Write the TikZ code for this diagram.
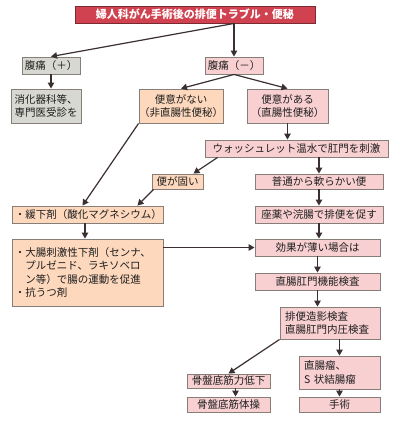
\documentclass[tikz,border=0pt]{standalone}
\usepackage{fontspec}
\setmainfont{Noto Sans CJK JP}
\usetikzlibrary{arrows.meta}
\definecolor{titlered}{HTML}{D0424F}
\definecolor{titleedge}{HTML}{7A2A30}
\definecolor{grayfill}{HTML}{D8D8D2}
\definecolor{orangefill}{HTML}{FDD8BD}
\definecolor{pinkfill}{HTML}{F9D0D1}
\definecolor{edgegray}{HTML}{857E79}
\definecolor{arrowcol}{HTML}{3B2F2F}
\definecolor{txt}{HTML}{1E1E1E}
\begin{document}
\begin{tikzpicture}[x=1bp,y=-1bp,
  box/.style={draw=edgegray,line width=0.9bp,inner sep=0pt,text=txt,
    font=\fontsize{10.5bp}{13.5bp}\selectfont,align=center},
  gbox/.style={box,fill=grayfill},
  obox/.style={box,fill=orangefill},
  pbox/.style={box,fill=pinkfill},
  sz/.style 2 args={minimum width=#1bp,minimum height=#2bp},
  arr/.style={draw=arrowcol,line width=1.2bp,-{Triangle[width=6.5bp,length=6bp]}}]
\path[use as bounding box,fill=white] (0,0) rectangle (400,430);
% nodes
\node[draw=titleedge,line width=0.9bp,fill=titlered,text=white,inner sep=0pt,
  font=\fontsize{11bp}{13bp}\selectfont\bfseries,sz={240}{17}] (top) at (195,14.5) {婦人科がん手術後の排便トラブル・便秘};
\node[gbox,sz={58}{17}] (pp) at (51,65.5) {腹痛（＋）};
\node[pbox,sz={58}{17}] (pm) at (234,65.5) {腹痛（－）};
\node[gbox,sz={70}{34}] (spec) at (46,106) {消化器科等、\\専門医受診を};
\node[obox,sz={82}{34}] (nai) at (181,106) {便意がない\\（非直腸性便秘）};
\node[pbox,sz={81}{34}] (aru) at (287.5,106) {便意がある\\（直腸性便秘）};
\node[pbox,sz={183}{17}] (wash) at (296.5,148.5) {ウォッシュレット温水で肛門を刺激};
\node[obox,sz={51}{15}] (kata) at (177.5,181.5) {便が固い};
\node[pbox,sz={128}{15}] (futsu) at (319,181.5) {普通から軟らかい便};
\node[obox,sz={151}{17},text width=145bp,align=left] (kanka) at (87.5,214.5) {・緩下剤（酸化マグネシウム）};
\node[pbox,sz={128}{17}] (zai) at (319,214.5) {座薬や浣腸で排便を促す};
\node[obox,sz={151}{67},text width=145bp,align=left] (daicho) at (87.5,272.5) {・大腸刺激性下剤（センナ、\\\hphantom{・}プルゼニド、ラキソベロ\\\hphantom{・}ン等）で腸の運動を促進\\・抗うつ剤};
\node[pbox,sz={125}{17}] (kouka) at (317.5,247.5) {効果が薄い場合は};
\node[pbox,sz={125}{17}] (kino) at (317.5,281.5) {直腸肛門機能検査};
\node[pbox,sz={100}{32},text width=90bp,align=left] (haiben) at (330,323) {排便造影検査\\直腸肛門内圧検査};
\node[pbox,sz={83}{14}] (kotsu) at (228.5,381) {骨盤底筋力低下};
\node[pbox,sz={83}{15}] (taiso) at (228.5,404.5) {骨盤底筋体操};
\node[pbox,sz={81}{33},text width=71bp,align=left] (ryu) at (339.5,372.5) {直腸瘤、\\S 状結腸瘤};
\node[pbox,sz={81}{15}] (shu) at (339.5,404.5) {手術};
% connectors
\draw[arr] (top.south -| pm.north) -- (pm.north);
\draw[arr] (top.south -| pm.north) -- (pp.north);
\draw[arr] (pp.south) -- (spec.north -| pp.south);
\draw[arr] (pm.south) -- (nai.north);
\draw[arr] (pm.south) -- (aru.north);
\draw[arr] (aru.south) -- (wash.north -| aru.south);
\draw[arr] ([xshift=13bp]wash.south west) -- ([xshift=-10bp]kata.north east);
\draw[arr] (wash.south -| futsu.north) -- (futsu.north);
\draw[arr] (nai.south west) -- ([xshift=-5bp]kanka.north);
\draw[arr] ([xshift=2bp]kata.south west) -- ([xshift=-26bp]kanka.north east);
\draw[arr] ([xshift=-2.5bp]kanka.south) -- ([xshift=-2.5bp]daicho.north);
\draw[arr] (futsu.south) -- (zai.north);
\draw[arr] (zai.south) -- (kouka.north -| zai.south);
\draw[arr] (kouka.west -| daicho.east) -- (kouka.west);
\draw[arr] (kouka.south) -- (kino.north);
\draw[arr] (kino.south) -- (haiben.north -| kino.south);
\draw[arr] (haiben.south west) -- (kotsu.north);
\draw[arr] (haiben.south -| ryu.north) -- (ryu.north);
\draw[arr] ([xshift=7bp]kotsu.south) -- ([xshift=7bp]taiso.north);
\draw[arr] (ryu.south) -- (shu.north);
\end{tikzpicture}
\end{document}
